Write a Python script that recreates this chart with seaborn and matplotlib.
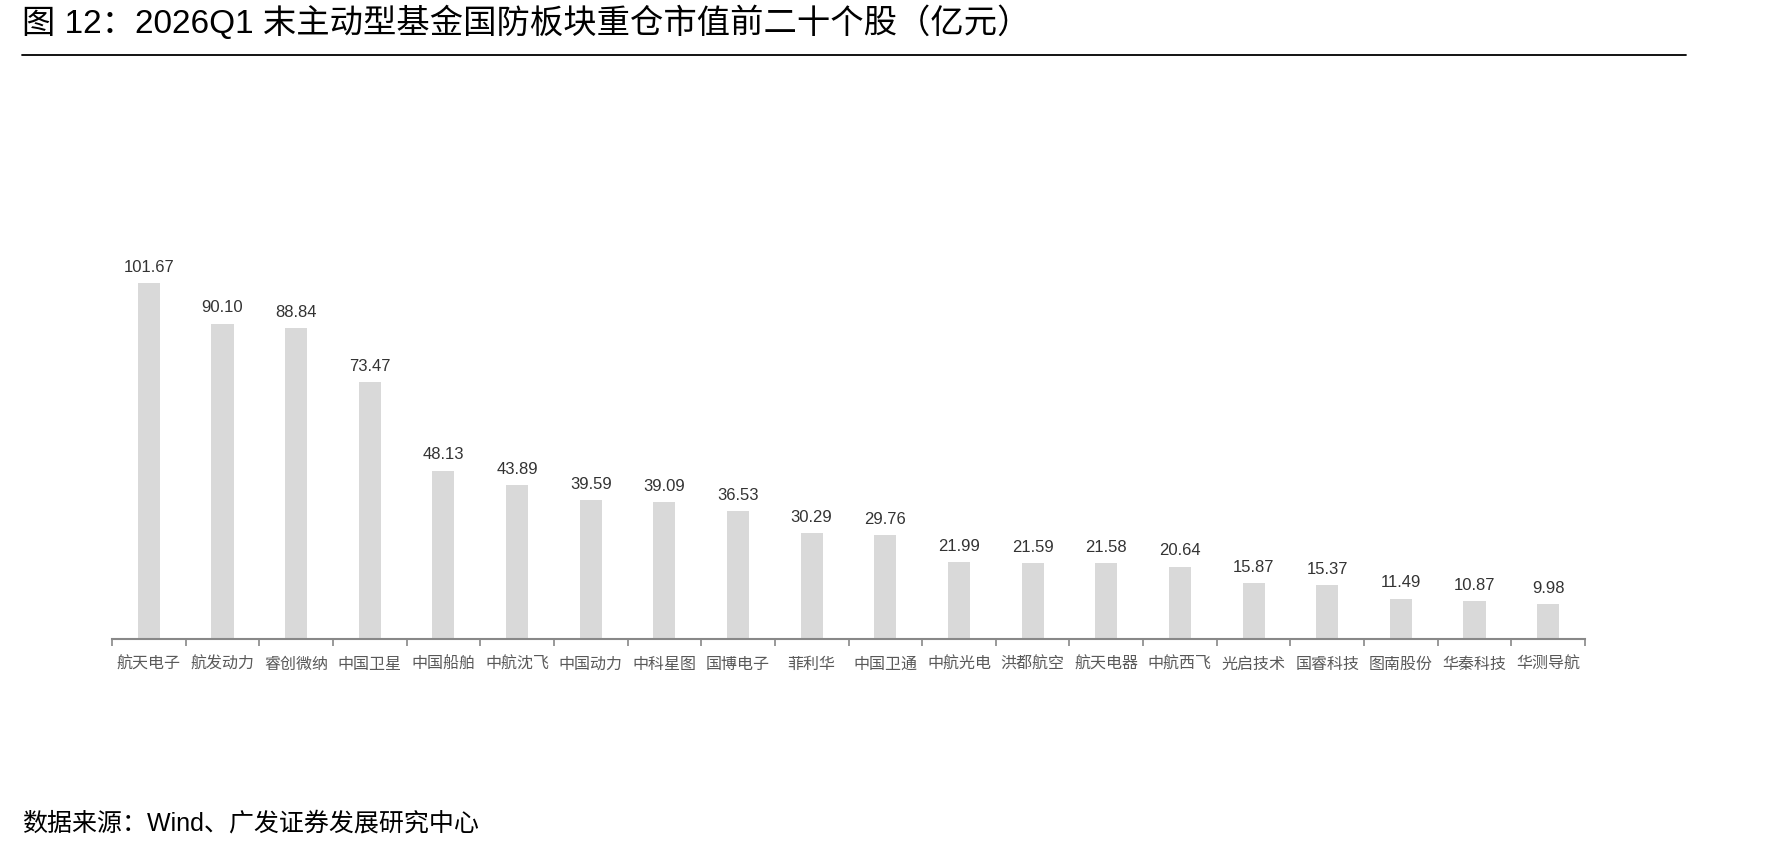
import matplotlib
matplotlib.use("Agg")
import matplotlib.pyplot as plt
import seaborn as sns
import pandas as pd
from matplotlib.lines import Line2D

stocks = ["航天电子", "航发动力", "睿创微纳", "中国卫星", "中国船舶", "中航沈飞", "中国动力",
          "中科星图", "国博电子", "菲利华", "中国卫通", "中航光电", "洪都航空", "航天电器",
          "中航西飞", "光启技术", "国睿科技", "图南股份", "华秦科技", "华测导航"]
values = [101.67, 90.10, 88.84, 73.47, 48.13, 43.89, 39.59, 39.09, 36.53, 30.29,
          29.76, 21.99, 21.59, 21.58, 20.64, 15.87, 15.37, 11.49, 10.87, 9.98]

title = "图 12：2026Q1 末主动型基金国防板块重仓市值前二十个股（亿元）"
source = "数据来源：Wind、广发证券发展研究中心"

sns.set_theme(style="white")
plt.rcParams['font.family'] = ['Liberation Sans', 'Noto Sans CJK SC', 'DejaVu Sans']

df = pd.DataFrame({"stock": stocks, "value": values})

fig = plt.figure(figsize=(17.9, 8.55), dpi=100)
ax = fig.add_axes([112/1790, 1-639/855, (1585-112)/1790, 420/855])

sns.barplot(data=df, x="stock", y="value", color="#d9d9d9", width=0.3, ax=ax,
            saturation=1, edgecolor="none")

ax.set_xlim(-0.5, len(stocks) - 0.5)
ax.set_ylim(0, 120)
ax.set_xlabel("")
ax.set_ylabel("")
ax.set_yticks([])
for s in ["top", "right", "left"]:
    ax.spines[s].set_visible(False)
ax.spines["bottom"].set_color("#888888")
ax.spines["bottom"].set_linewidth(1.5)

ax.set_xticks(range(len(stocks)))
ax.set_xticklabels(stocks, fontsize=11.5, color="#595959",
                   family=['Noto Sans CJK SC', 'DejaVu Sans'])
ax.tick_params(axis="x", which="major", length=0, pad=12)
ax.set_xticks([i - 0.5 for i in range(len(stocks) + 1)], minor=True)
ax.tick_params(axis="x", which="minor", length=5, width=1.2, color="#888888",
               direction="out", bottom=True)

for c in ax.containers:
    ax.bar_label(c, labels=[f"{v:.2f}" for v in values], padding=6,
                 fontsize=12, color="#333333")

fig.text(22/1790, 1-23/855, title, fontsize=24, color="black",
         ha="left", va="center", fontweight="medium")
fig.add_artist(Line2D([22/1790, 1686/1790], [1-55/855, 1-55/855],
                      color="black", linewidth=1.3, transform=fig.transFigure))
fig.text(22/1790, 1-824/855, source, fontsize=18, color="black",
         ha="left", va="center")

fig.savefig("out.png", dpi=100)
